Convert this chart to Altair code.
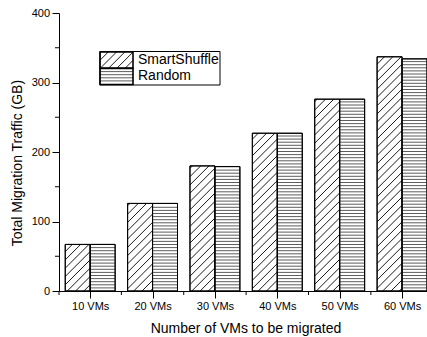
import json
import math
import altair as alt
import pandas as pd

# ---------------- data ----------------
categories = ["10 VMs", "20 VMs", "30 VMs", "40 VMs", "50 VMs", "60 VMs"]
smartshuffle = [67, 126, 180, 227, 276, 337]
random_vals = [67, 126, 179, 227, 276, 334]
series = ["SmartShuffle", "Random"]
y_ticks = [0, 100, 200, 300, 400]
y_minor_ticks = [50, 150, 250, 350]

# ---------------- layout / style ----------------
PLOT_W, PLOT_H = 368, 278
PAD = {"left": 59, "top": 13, "right": 0, "bottom": 46}
XMAX, YMAX = 5.9, 400
SX, SY = PLOT_W / XMAX, PLOT_H / YMAX
DIAG_STEP = 8.3
HORIZ_STEP = 3.1
FONT = "Liberation Sans"
BAR_GAP = 0.1

xscale = alt.Scale(domain=[0, XMAX], nice=False, zero=False)
yscale = alt.Scale(domain=[0, YMAX], nice=False, zero=False)


def diag_px(xa, xb, h, step):
    """45-degree '/' segments inside [xa,xb] x [0,h] (pixels, y up)."""
    segs = []
    c = math.floor((xa - h) / step) * step
    while c <= xb:
        lo = max(xa, c)
        hi = min(xb, c + h)
        if hi - lo > 0.4:
            segs.append((lo, lo - c, hi, hi - c))
        c += step
    return segs


def to_dx(px):
    return px / SX


def to_dy(py):
    return YMAX - py / SY


bar_rows, diag_rows, horiz_rows = [], [], []
for i, cat in enumerate(categories):
    for s, vals in zip(series, [smartshuffle, random_vals]):
        v = vals[i]
        if s == series[0]:
            x0, x1 = i + BAR_GAP, i + 0.5
        else:
            x0, x1 = i + 0.5, i + 1 - BAR_GAP
        bar_rows.append({"cat": cat, "series": s, "x": x0, "x2": x1, "y": v, "y2": 0})
        if s == series[0]:
            for (a, ya, b, yb) in diag_px(x0 * SX, x1 * SX, v * SY, DIAG_STEP):
                diag_rows.append({"x": a / SX, "y": ya / SY, "x2": b / SX, "y2": yb / SY})
        else:
            k = 1
            while k * HORIZ_STEP < v * SY - 0.8:
                horiz_rows.append({"x": x0, "x2": x1, "y": k * HORIZ_STEP / SY})
                k += 1

# ---------------- legend ----------------
LX0, LX1, LY0, LY1 = 41, 161, 38.5, 72
SWX1 = 74
rows_y = [(39, 55), (55.5, 71.5)]
leg_box = [{"x": to_dx(LX0), "x2": to_dx(LX1), "y": to_dy(LY0), "y2": to_dy(LY1)}]
leg_sw = [{"x": to_dx(LX0), "x2": to_dx(SWX1), "y": to_dy(a), "y2": to_dy(b)} for a, b in rows_y]
leg_text = [{"name": s, "x": to_dx(79), "y": to_dy(b - 4.3)} for s, (a, b) in zip(series, rows_y)]
a, b = rows_y[0]
for (p, ya, q, yb) in diag_px(LX0, SWX1, b - a, DIAG_STEP):
    diag_rows.append({"x": to_dx(p), "y": to_dy(b - ya), "x2": to_dx(q), "y2": to_dy(b - yb)})
a, b = rows_y[1]
k = 1
while a + k * HORIZ_STEP < b - 0.8:
    horiz_rows.append({"x": to_dx(LX0), "x2": to_dx(SWX1), "y": to_dy(a + k * HORIZ_STEP)})
    k += 1

x_tick_vals = [i + 0.5 for i in range(len(categories))]
x_minor_vals = list(range(len(categories)))
label_expr = json.dumps(categories) + "[round(datum.value - 0.5)]"

x_axis = alt.Axis(values=x_tick_vals, labelExpr=label_expr,
                  title="Number of VMs to be migrated")
y_axis = alt.Axis(values=y_ticks, title="Total Migration Traffic (GB)")


def X(field="x"):
    return alt.X(field, type="quantitative", scale=xscale, axis=x_axis)


def Y(field="y"):
    return alt.Y(field, type="quantitative", scale=yscale, axis=y_axis)


bars_fill = alt.Chart(pd.DataFrame(bar_rows)).mark_rect(
    fill="white", stroke="black", strokeWidth=1).encode(
    x=X(), x2="x2", y=Y(), y2="y2")
legend_box = alt.Chart(pd.DataFrame(leg_box)).mark_rect(
    fill="white", stroke="black", strokeWidth=1).encode(x=X(), x2="x2", y=Y(), y2="y2")
diag = alt.Chart(pd.DataFrame(diag_rows)).mark_rule(color="black", strokeWidth=0.9).encode(
    x=X(), x2="x2", y=Y(), y2="y2")
horiz = alt.Chart(pd.DataFrame(horiz_rows)).mark_rule(color="#333", strokeWidth=0.8).encode(
    x=X(), x2="x2", y=Y())
bars_outline = alt.Chart(pd.DataFrame(bar_rows)).mark_rect(
    fillOpacity=0, stroke="black", strokeWidth=1).encode(x=X(), x2="x2", y=Y(), y2="y2")
legend_sw = alt.Chart(pd.DataFrame(leg_sw)).mark_rect(
    fillOpacity=0, stroke="black", strokeWidth=1.6).encode(x=X(), x2="x2", y=Y(), y2="y2")
legend_txt = alt.Chart(pd.DataFrame(leg_text)).mark_text(
    align="left", baseline="alphabetic", font=FONT, fontSize=14, color="black").encode(
    x=X(), y=Y(), text="name:N")
y_minor = alt.Chart(pd.DataFrame({"y": y_minor_ticks})).mark_rule(color="black").encode(
    x=alt.value(-4), x2=alt.value(0), y=Y())
x_minor = alt.Chart(pd.DataFrame({"x": x_minor_vals})).mark_rule(color="black").encode(
    x=X(), y=alt.value(PLOT_H), y2=alt.value(PLOT_H + 4))

chart = alt.layer(
    bars_fill, legend_box, diag, horiz, bars_outline, legend_sw, legend_txt, y_minor, x_minor,
).properties(
    width=PLOT_W, height=PLOT_H, padding=PAD,
    autosize=alt.AutoSizeParams(type="none"), background="white",
).configure_view(
    stroke=None
).configure_axis(
    grid=False, tickSize=7, tickColor="black", domainColor="black",
    labelFont=FONT, labelFontSize=11, labelColor="black",
    titleFont=FONT, titleFontSize=14, titleFontWeight="normal", titleColor="black",
    titleBaseline="alphabetic", titleAlign="center",
).configure_axisX(
    labelPadding=2, labelFlush=False, labelOverlap=False,
    titleX=186.5, titleY=41,
).configure_axisY(
    labelPadding=2.5, titleX=-37.5, titleY=149.5, titleAngle=270,
)

chart.save("out.html", embed_options={"renderer": "svg", "actions": False})
